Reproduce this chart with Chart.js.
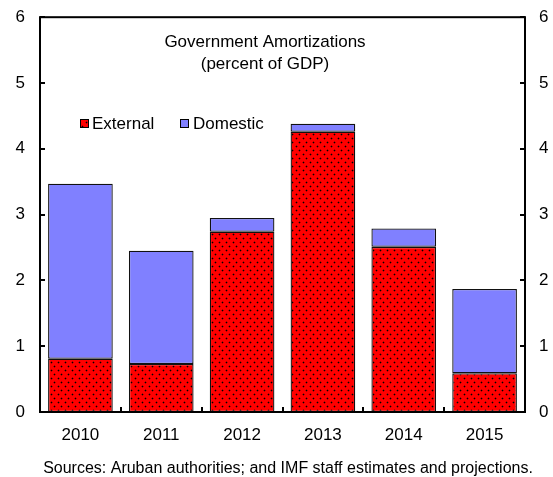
<!DOCTYPE html>
<html>
<head>
<meta charset="utf-8">
<script src="https://cdn.jsdelivr.net/npm/chart.js@4.4.1/dist/chart.umd.min.js"></script>
<style>
  html, body { margin: 0; padding: 0; background: #fff; }
  #wrap { width: 553px; height: 477px; }
</style>
</head>
<body>
<div id="wrap"><canvas id="amortChart" width="553" height="477"></canvas></div>
<script>
const years = ["2010", "2011", "2012", "2013", "2014", "2015"];
const external = [0.81, 0.73, 2.74, 4.26, 2.51, 0.59];
const domestic = [2.66, 1.72, 0.21, 0.12, 0.28, 1.28];
const yTicks = [0, 1, 2, 3, 4, 5, 6];

const FONT = "'Liberation Sans', Arial, sans-serif";

// red fill with small dark dots, like the original hatch
function dotPattern() {
  const c = document.createElement("canvas");
  c.width = 7;
  c.height = 8;
  const g = c.getContext("2d");
  g.fillStyle = "#ff0000";
  g.fillRect(0, 0, 7, 8);
  g.fillStyle = "rgba(90,0,0,0.45)";
  [[2, 2], [5, 6]].forEach(([x, y]) => {
    g.fillRect(x - 1, y, 3, 1);
    g.fillRect(x, y - 1, 1, 3);
  });
  g.fillStyle = "#000";
  g.fillRect(2, 2, 1, 1);
  g.fillRect(5, 6, 1, 1);
  return g.createPattern(c, "repeat");
}

const ctx = document.getElementById("amortChart").getContext("2d");
const redDots = dotPattern();

// frame, inside ticks, title, legend and source note
const decorations = {
  id: "decorations",
  afterDraw(chart) {
    const { ctx, chartArea: a, scales } = chart;
    ctx.save();
    ctx.strokeStyle = "#000";
    ctx.lineWidth = 2;
    ctx.strokeRect(a.left, a.top, a.right - a.left, a.bottom - a.top);

    ctx.beginPath();
    yTicks.forEach((v) => {
      const y = Math.round(scales.y.getPixelForValue(v));
      ctx.moveTo(a.left, y);
      ctx.lineTo(a.left + 5, y);
      ctx.moveTo(a.right, y);
      ctx.lineTo(a.right - 5, y);
    });
    const step = (a.right - a.left) / years.length;
    for (let i = 1; i < years.length; i++) {
      const x = Math.round(a.left + step * i);
      ctx.moveTo(x, a.bottom);
      ctx.lineTo(x, a.bottom - 5);
    }
    ctx.stroke();

    ctx.fillStyle = "#000";
    ctx.font = "17px " + FONT;
    ctx.textAlign = "center";
    ctx.textBaseline = "middle";
    ctx.fillText("Government Amortizations", 265, 42);
    ctx.fillText("(percent of GDP)", 265, 64);

    // legend
    ctx.textAlign = "left";
    ctx.lineWidth = 1;
    ctx.fillStyle = redDots;
    ctx.fillRect(80, 119, 8, 8);
    ctx.strokeRect(80.5, 119.5, 8, 8);
    ctx.fillStyle = "#8080ff";
    ctx.fillRect(180, 119, 8, 8);
    ctx.strokeRect(180.5, 119.5, 8, 8);
    ctx.fillStyle = "#000";
    ctx.fillText("External", 92, 124);
    ctx.fillText("Domestic", 193, 124);

    ctx.textAlign = "center";
    ctx.font = "16px " + FONT;
    ctx.fillText("Sources: Aruban authorities; and IMF staff estimates and projections.", 288, 469);
    ctx.restore();
  },
};

const tickFont = { family: FONT, size: 17 };

new Chart(ctx, {
  type: "bar",
  data: {
    labels: years,
    datasets: [
      {
        label: "External",
        data: external,
        backgroundColor: redDots,
        borderColor: "#111",
        borderWidth: 1.3,
        borderSkipped: false,
        barPercentage: 0.8,
        categoryPercentage: 1,
      },
      {
        label: "Domestic",
        data: domestic,
        backgroundColor: "#8080ff",
        borderColor: "#111",
        borderWidth: 1.3,
        borderSkipped: false,
        barPercentage: 0.8,
        categoryPercentage: 1,
      },
    ],
  },
  options: {
    responsive: false,
    animation: false,
    devicePixelRatio: 1,
    layout: { padding: { top: 8, left: 0, right: 0, bottom: 0 } },
    plugins: {
      legend: { display: false },
      tooltip: { enabled: false },
    },
    scales: {
      x: {
        stacked: true,
        grid: { display: false },
        border: { display: false },
        ticks: { color: "#000", font: tickFont, padding: 5 },
        afterFit(s) {
          s.height = 65;
        },
      },
      y: {
        stacked: true,
        min: 0,
        max: 6,
        grid: { display: false },
        border: { display: false },
        ticks: { color: "#000", font: tickFont, stepSize: 1, padding: 7 },
        afterFit(s) {
          s.width = 40;
        },
      },
      y2: {
        position: "right",
        min: 0,
        max: 6,
        grid: { display: false },
        border: { display: false },
        ticks: { color: "#000", font: tickFont, stepSize: 1, padding: 6 },
        afterFit(s) {
          s.width = 28;
        },
      },
    },
  },
  plugins: [decorations],
});
</script>
</body>
</html>
